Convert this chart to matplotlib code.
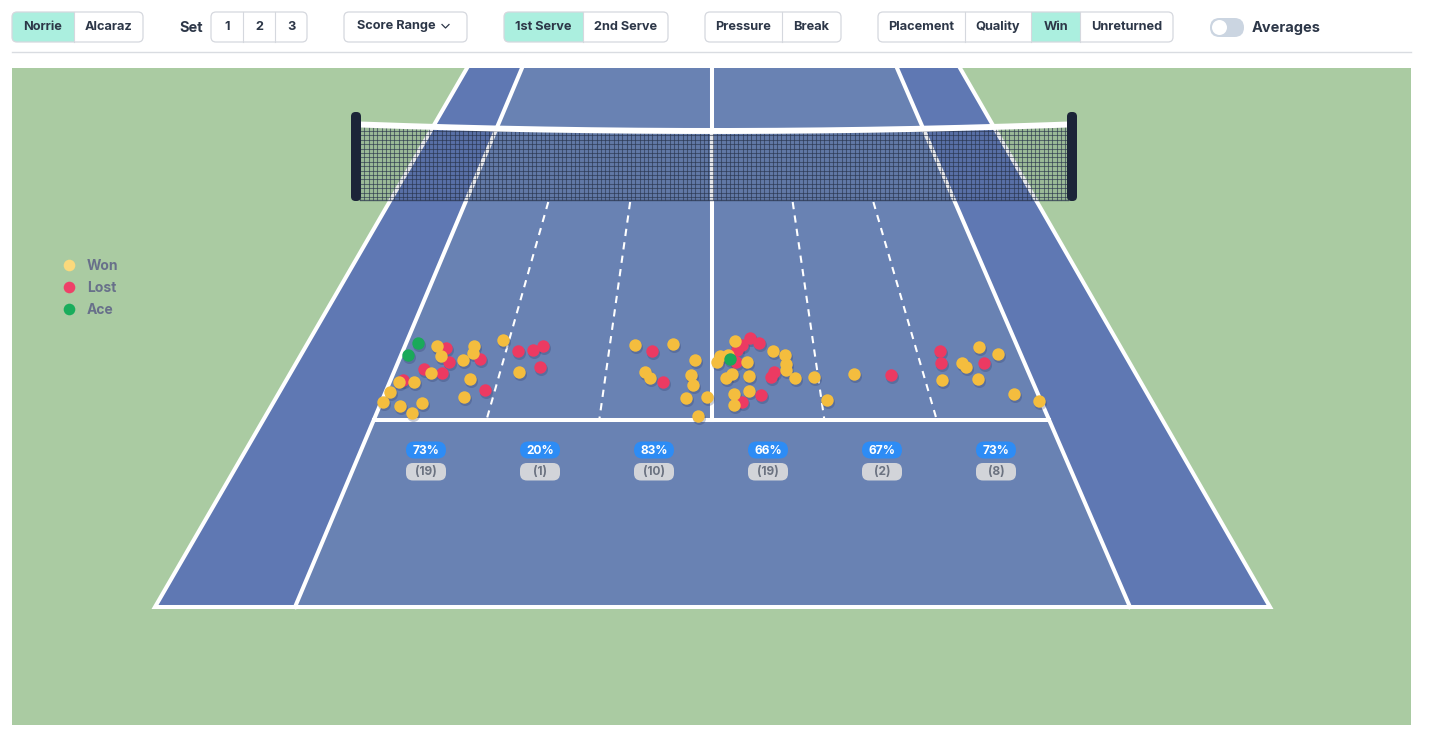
import numpy as np
import matplotlib.pyplot as plt
from matplotlib.patches import Polygon, FancyBboxPatch, Rectangle, Circle
from matplotlib.collections import LineCollection

plt.rcParams['font.family'] = ['Inter', 'DejaVu Sans']

# ---- data (screen positions of serve bounces, px) ----
won_x = [436.7, 440.7, 474.3, 472.7, 463.3, 503.3, 431.3, 399.3, 414.3, 390.0,
         383.3, 400.3, 422.3, 412.0, 470.3, 464.3, 519.3,
         635.3, 673.3, 695.3, 645.3, 650.3, 691.3, 693.3, 686.3, 707.0, 698.3,
         735.3, 717.3, 720.0, 727.7, 747.3, 773.3, 785.3, 786.0, 786.0, 795.3,
         814.3, 731.7, 726.3, 749.3, 749.3, 734.3, 734.0, 827.0,
         854.3, 979.3, 998.3, 965.7, 962.3, 942.3, 978.3, 1014.3, 1039.3]
won_y = [346.0, 356.0, 346.0, 353.3, 360.3, 340.3, 373.3, 382.0, 382.3, 392.0,
         402.0, 406.0, 403.3, 413.0, 379.3, 397.3, 372.3,
         345.3, 344.3, 360.3, 371.7, 378.3, 375.0, 385.3, 398.3, 397.3, 416.3,
         341.0, 362.3, 356.0, 355.3, 362.3, 351.3, 355.0, 370.0, 364.0, 378.3,
         377.3, 374.0, 378.3, 376.0, 391.0, 394.0, 405.3, 400.0,
         374.3, 347.3, 354.3, 367.3, 363.0, 380.3, 379.3, 394.0, 401.0]

lost_x = [446.3, 448.7, 480.0, 424.3, 442.0, 403.3, 485.3, 518.3, 533.0, 543.3, 540.0,
          652.3, 663.3,
          750.0, 759.3, 741.7, 736.7, 736.0, 774.0, 771.0, 761.3, 741.7,
          891.3, 940.3, 941.3, 984.3]
lost_y = [348.0, 362.3, 359.3, 369.3, 373.0, 380.0, 390.0, 351.3, 350.0, 346.0, 366.7,
          351.3, 382.0,
          337.7, 343.0, 345.0, 350.0, 362.3, 371.7, 377.3, 395.0, 401.7,
          375.0, 351.0, 363.0, 363.0]

ace_x = [418.3, 408.3, 730.0]
ace_y = [343.3, 355.0, 359.3]

zone_pct = [73, 20, 83, 66, 67, 73]
zone_count = [19, 1, 10, 19, 2, 8]

legend_labels = ['Won', 'Lost', 'Ace']
legend_colors = ['#fbd97c', '#ee4168', '#19ad5c']
ball_colors = {'won': '#f4bd3e', 'lost': '#ec3a62', 'ace': '#1aa95a'}

toolbar = [
    (['Norrie', 'Alcaraz'], [12, 74, 143], 0),
    (['1', '2', '3'], [211, 243, 275, 307], None),
    (['1st Serve', '2nd Serve'], [504, 583, 668], 0),
    (['Pressure', 'Break'], [705, 782, 841], None),
    (['Placement', 'Quality', 'Win', 'Unreturned'], [878, 965, 1031, 1080, 1173], 2),
]

GREEN = '#aacba2'
ALLEY = '#5f78b3'
COURT = '#6982b3'
LINE = 'white'
TXT = '#2d3748'


def line_x(top, bot, y, y0=68, y1=607):
    return top + (bot - top) * (y - y0) / (y1 - y0)


def draw_toolbar(ax):
    for labels, edges, active in toolbar:
        y0, y1 = 12, 42
        outline = FancyBboxPatch((edges[0], y0), edges[-1] - edges[0], y1 - y0,
                                 boxstyle='round,pad=0,rounding_size=5',
                                 fc='white', ec='none', zorder=2)
        ax.add_patch(outline)
        if active is not None:
            r = Rectangle((edges[active], y0), edges[active + 1] - edges[active], y1 - y0,
                          fc='#abefdf', ec='none', zorder=3)
            ax.add_patch(r)
            r.set_clip_path(outline)
        for e in edges[1:-1]:
            ax.plot([e, e], [y0, y1], color='#d5d8de', lw=0.8, zorder=4)
        ax.add_patch(FancyBboxPatch((edges[0], y0), edges[-1] - edges[0], y1 - y0,
                                    boxstyle='round,pad=0,rounding_size=5',
                                    fc='none', ec='#d5d8de', lw=0.9, zorder=5))
        for i, lab in enumerate(labels):
            ax.text((edges[i] + edges[i + 1]) / 2, 27, lab, ha='center', va='center',
                    fontsize=9.2, weight='bold', color=TXT, zorder=6)

    ax.text(179, 28, 'Set', ha='left', va='center', fontsize=10.5, weight='bold', color=TXT)

    # score range dropdown
    ax.add_patch(FancyBboxPatch((344, 12), 123, 30, boxstyle='round,pad=0,rounding_size=5',
                                fc='white', ec='#d5d8de', lw=0.9))
    ax.text(357, 26, 'Score Range', ha='left', va='center', fontsize=9.2, weight='bold', color=TXT)
    ax.plot([442, 445.5, 449], [24.5, 28, 24.5], color=TXT, lw=0.9)

    # toggle
    ax.add_patch(FancyBboxPatch((1210, 18), 34, 19, boxstyle='round,pad=0,rounding_size=9.5',
                                fc='#cbd5e1', ec='none'))
    ax.add_patch(Circle((1219.5, 27.5), 7.5, fc='white', ec='none'))
    ax.text(1252, 28, 'Averages', ha='left', va='center', fontsize=10.5, weight='bold', color=TXT)

    ax.plot([12, 1411], [51.5, 51.5], color='#d9dce1', lw=1)


def draw_court(ax):
    ax.add_patch(Rectangle((12, 68), 1399, 657, fc=GREEN, ec='none', zorder=0))

    dl, sl, sr, dr = (467, 155), (522, 295), (897, 1130), (960, 1270)
    ax.add_patch(Polygon([(dl[0], 68), (dr[0], 68), (dr[1], 607), (dl[1], 607)],
                         fc=ALLEY, ec='none', zorder=1))
    ax.add_patch(Polygon([(sl[0], 68), (sr[0], 68), (sr[1], 607), (sl[1], 607)],
                         fc=COURT, ec='none', zorder=1))

    lw = 2.9
    ax.plot([dl[0], dl[1], dr[1], dr[0]], [68, 607, 607, 68], color=LINE, lw=lw,
            solid_joinstyle='miter', zorder=2)
    for top, bot in (sl, sr):
        ax.plot([top, bot], [68, 607], color=LINE, lw=lw, zorder=2)
    ax.plot([line_x(*sl, 420), line_x(*sr, 420)], [420, 420], color=LINE, lw=lw, zorder=2)
    ax.plot([712, 712], [68, 420], color=LINE, lw=lw, zorder=2)

    # dashed zone dividers in the service boxes
    for side_top, side_bot, centre in ((sl[0], sl[1], 712), (sr[0], sr[1], 712)):
        for frac in (1 / 3, 2 / 3):
            xa = line_x(side_top, side_bot, 200) + (centre - line_x(side_top, side_bot, 200)) * frac
            xb = line_x(side_top, side_bot, 420) + (centre - line_x(side_top, side_bot, 420)) * frac
            ax.plot([xa, xb], [202, 420], color=LINE, lw=1.5, ls=(0, (3.5, 3)), zorder=2)


def draw_net(ax):
    xl, xr = 360, 1068
    xs = np.linspace(xl, xr, 200)
    top = 124.5 + 6.5 * (1 - ((xs - 714) / 354) ** 2)
    segs = []
    for x in np.arange(xl, xr, 4.3):
        t = 124.5 + 6.5 * (1 - ((x - 714) / 354) ** 2)
        segs.append([(x, t), (x, 200)])
    for y in np.arange(131, 200, 4.4):
        segs.append([(xl, y), (xr, y)])
    ax.fill_between(xs, top, 200, color='#1c2538', alpha=0.1, lw=0, zorder=3)
    ax.add_collection(LineCollection(segs, colors='#27324a', linewidths=0.75, alpha=0.6, zorder=3))
    ax.plot([xl, xr], [200, 200], color='#27324a', lw=1, alpha=0.7, zorder=3)
    ax.plot(xs, top, color='white', lw=4.3, solid_capstyle='butt', zorder=4)
    for px in (351, 1067):
        ax.add_patch(FancyBboxPatch((px, 112), 10, 89, boxstyle='round,pad=0,rounding_size=4.5',
                                    fc='#1c2538', ec='none', zorder=5))


def draw_balls(ax):
    for xs, ys, key in ((lost_x, lost_y, 'lost'), (won_x, won_y, 'won'), (ace_x, ace_y, 'ace')):
        xs, ys = np.array(xs), np.array(ys)
        ax.scatter(xs + 0.8, ys + 1.8, s=88, color='#2a3560', alpha=0.25, lw=0, zorder=6)
        ax.scatter(xs, ys, s=80, color=ball_colors[key], lw=0, zorder=7)


def draw_zone_labels(ax):
    for i, (p, n) in enumerate(zip(zone_pct, zone_count)):
        cx = 426 + 114 * i
        ax.add_patch(FancyBboxPatch((cx - 20, 441.5), 40, 17, boxstyle='round,pad=0,rounding_size=8.5',
                                    fc='#2d8cf5', ec='none', zorder=8))
        ax.text(cx, 450.5, f'{p}%', ha='center', va='center', fontsize=8.6, weight='bold',
                color='white', zorder=9)
        ax.add_patch(FancyBboxPatch((cx - 20, 463), 40, 17.5, boxstyle='round,pad=0,rounding_size=7',
                                    fc='#d2d4d9', ec='none', zorder=8))
        ax.text(cx, 472, f'({n})', ha='center', va='center', fontsize=8.6, weight='bold',
                color='#6b7280', zorder=9)


def draw_legend(ax):
    for i, (lab, col) in enumerate(zip(legend_labels, legend_colors)):
        y = 265 + 22 * i
        ax.scatter([69], [y], s=70, color=col, lw=0, zorder=7)
        ax.text(87, y + 0.5, lab, ha='left', va='center', fontsize=10, weight='bold',
                color='#68708a', zorder=7)


def main():
    fig = plt.figure(figsize=(14.39, 7.30), dpi=100)
    ax = fig.add_axes([0, 0, 1, 1])
    ax.set_xlim(0, 1439)
    ax.set_ylim(730, 0)
    ax.axis('off')

    draw_toolbar(ax)
    draw_court(ax)
    draw_net(ax)
    draw_balls(ax)
    draw_zone_labels(ax)
    draw_legend(ax)

    fig.savefig('out.png', dpi=100)


if __name__ == "__main__":
    main()
